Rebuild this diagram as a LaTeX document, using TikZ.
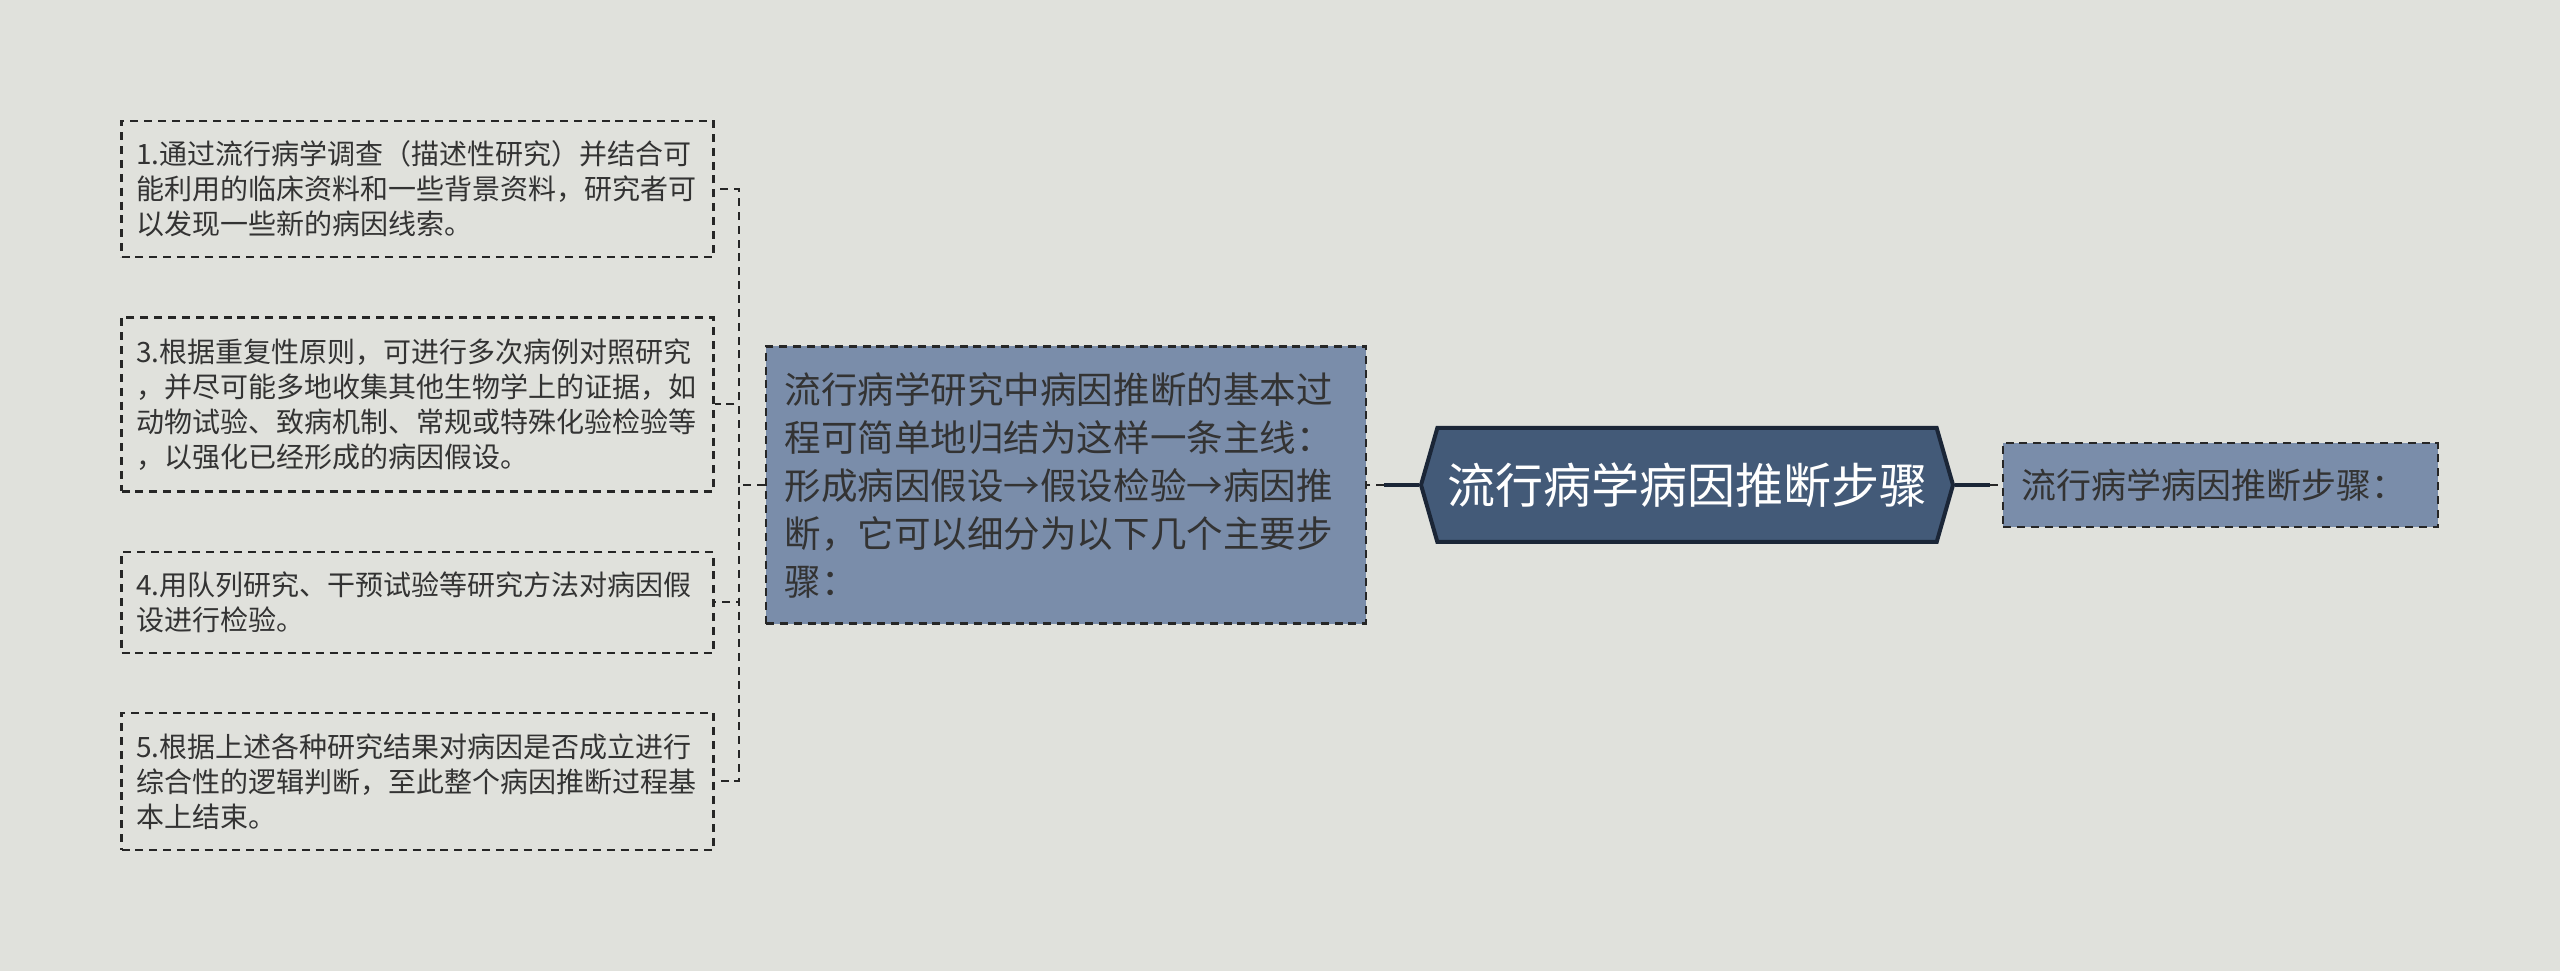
\documentclass[tikz,border=0pt]{standalone}
\usepackage{fontspec}
\setmainfont{Noto Sans CJK SC}
\usepackage{xcolor}
\usetikzlibrary{positioning,shapes.symbols}
\definecolor{bgcol}{HTML}{E0E1DC}
\definecolor{boxblue}{HTML}{7A8DAA}
\definecolor{rootblue}{HTML}{435A78}
\definecolor{rootedge}{HTML}{1B2637}
\definecolor{txt}{HTML}{333333}

\begin{document}
\begin{tikzpicture}[x=0.375pt, y=-0.375pt,
    leaf/.style={draw=black!85, line width=0.9pt, dash pattern=on 3pt off 2.2pt, text=txt,
        font=\fontsize{10.5pt}{13.1pt}\selectfont, text width=211pt, align=left,
        inner xsep=5.5pt, inner ysep=0pt},
    midbox/.style={leaf, fill=boxblue, font=\fontsize{13.7pt}{18pt}\selectfont,
        inner xsep=7pt, minimum height=104pt},
    rootbox/.style={signal, signal to=west and east, signal pointer angle=148,
        fill=rootblue, draw=rootedge, line width=1.5pt, text=white,
        font=\fontsize{18pt}{20pt}\selectfont, minimum width=199.5pt,
        minimum height=42.75pt, inner sep=0pt},
    link/.style={draw=black!85, line width=0.75pt, dash pattern=on 3pt off 2.2pt},
    stem/.style={draw=rootedge, line width=1.5pt}]
    \fill[bgcol] (0,0) rectangle (2560,971);
    \useasboundingbox (0,0) rectangle (2560,971);
    \node[rootbox] (root) at (1687,485) {流行病学病因推断步骤};
    \node[midbox] (mid) at (1066,485) {流行病学研究中病因推断的基本过\\程可简单地归结为这样一条主线：\\形成病因假设→假设检验→病因推\\断，它可以细分为以下几个主要步\\骤：};
    \node[leaf, fill=boxblue, font=\fontsize{13.1pt}{16pt}\selectfont, text width=149pt,
        inner xsep=7pt, minimum height=31.5pt] (tail) at (2220.5,485) {流行病学病因推断步骤：};
    \node[leaf, minimum height=51pt] (s1) at (417.5,189) {1.通过流行病学调查（描述性研究）并结合可\\能利用的临床资料和一些背景资料，研究者可\\以发现一些新的病因线索。};
    \node[leaf, minimum height=65.25pt] (s3) at (417.5,404.5) {3.根据重复性原则，可进行多次病例对照研究\\，并尽可能多地收集其他生物学上的证据，如\\动物试验、致病机制、常规或特殊化验检验等\\，以强化已经形成的病因假设。};
    \node[leaf, minimum height=37.9pt] (s4) at (417.5,602.5) {4.用队列研究、干预试验等研究方法对病因假\\设进行检验。};
    \node[leaf, minimum height=51.4pt] (s5) at (417.5,781.5) {5.根据上述各种研究结果对病因是否成立进行\\综合性的逻辑判断，至此整个病因推断过程基\\本上结束。};
    \foreach \s in {s1,s3,s4,s5}
        \draw[link] (mid.west) -- ++(-26,0) |- (\s.east);
    \draw[stem] (root.west) -- ++(-35,0) coordinate (j1);
    \draw[link] (j1) -- (mid.east);
    \draw[stem] (root.east) -- ++(35,0) coordinate (j2);
    \draw[link] (j2) -- (tail.west);
\end{tikzpicture}
\end{document}
